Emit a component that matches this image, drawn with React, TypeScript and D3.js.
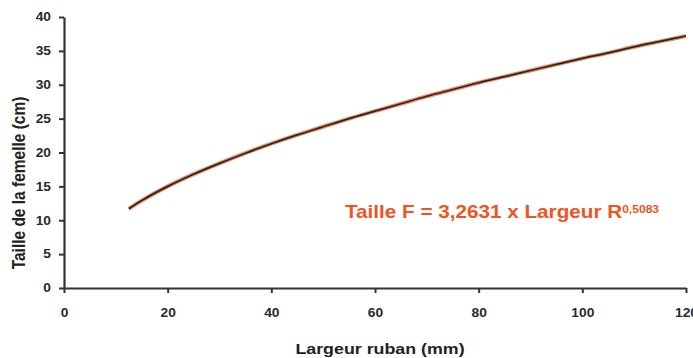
import { useEffect, useRef } from "react";
import * as d3 from "d3";

const WIDTH = 693;
const HEIGHT = 358;
const MARGIN = { top: 17, right: 7, bottom: 70, left: 64 };

// values
const largeur = [12.5, 15, 20, 25, 30, 35, 40, 45, 50, 55, 60, 65, 70, 75, 80, 85, 90, 95, 100, 105, 110, 115, 120];
const taille = [11.7, 12.9, 15.0, 16.8, 18.4, 19.9, 21.3, 22.6, 23.8, 25.0, 26.1, 27.2, 28.3, 29.3, 30.3, 31.2, 32.1, 33.0, 33.9, 34.7, 35.6, 36.4, 37.2];
const xTicks = [0, 20, 40, 60, 80, 100, 120];
const yTicks = [0, 5, 10, 15, 20, 25, 30, 35, 40];

const FONT = "'Liberation Sans', Arial, sans-serif";
const AXIS_COLOR = "#333";
const RED = "#f05423";
// the original picture is a bit wider than tall, text looks stretched
const STRETCH = 1.15;

export default function App() {
  const axesRef = useRef<SVGGElement>(null);
  const boundsWidth = WIDTH - MARGIN.left - MARGIN.right;
  const boundsHeight = HEIGHT - MARGIN.top - MARGIN.bottom;

  const xScale = d3.scaleLinear().domain([0, 120]).range([0, boundsWidth]);
  const yScale = d3.scaleLinear().domain([0, 40]).range([boundsHeight, 0]);

  const data = largeur.map((x, i) => ({ x, y: taille[i] }));
  const line = d3
    .line<{ x: number; y: number }>()
    .x((d) => xScale(d.x))
    .y((d) => yScale(d.y))
    .curve(d3.curveMonotoneX);
  const path = line(data) || "";

  useEffect(() => {
    const g = d3.select(axesRef.current);
    g.selectAll("*").remove();

    const xAxis = g
      .append("g")
      .attr("transform", `translate(0,${boundsHeight})`)
      .call(d3.axisBottom(xScale).tickValues(xTicks).tickSize(5).tickPadding(15).tickSizeOuter(0));
    const yAxis = g
      .append("g")
      .call(d3.axisLeft(yScale).tickValues(yTicks).tickSize(5).tickPadding(8).tickSizeOuter(0));

    [xAxis, yAxis].forEach((a) => {
      a.select(".domain").attr("stroke", AXIS_COLOR).attr("stroke-width", 2.2);
      a.selectAll(".tick line").attr("stroke", AXIS_COLOR).attr("stroke-width", 2);
      a.selectAll<SVGTextElement, number>(".tick text")
        .attr("fill", "#2a2a2a")
        .attr("x", function () {
          return +(this.getAttribute("x") || 0) / STRETCH;
        })
        .attr("transform", `scale(${STRETCH},1)`)
        .style("font-family", FONT)
        .style("font-size", "12px")
        .style("font-weight", "bold");
    });
  }, []);

  return (
    <svg
      width={WIDTH}
      height={HEIGHT}
      style={{ position: "absolute", left: 0, top: 0, background: "#fff" }}
    >
      <g transform={`translate(${MARGIN.left},${MARGIN.top})`}>
        <path d={path} fill="none" stroke={RED} strokeWidth={4} strokeOpacity={0.7} />
        <path d={path} fill="none" stroke="#1e2a26" strokeWidth={1.7} />
        <g ref={axesRef} />
      </g>
      <text
        transform={`translate(345,218) scale(${STRETCH},1)`}
        fill={RED}
        style={{ fontFamily: FONT, fontSize: 18, fontWeight: "bold" }}
      >
        Taille F = 3,2631 x Largeur R
        <tspan dy={-5.5} style={{ fontSize: 10.5 }}>0,5083</tspan>
      </text>
      <text
        transform={`translate(380,354) scale(${STRETCH},1)`}
        textAnchor="middle"
        fill="#222"
        style={{ fontFamily: FONT, fontSize: 15.5, fontWeight: "bold" }}
      >
        Largeur ruban (mm)
      </text>
      <text
        transform={`translate(25,183) scale(${STRETCH},1) rotate(-90)`}
        textAnchor="middle"
        fill="#222"
        style={{ fontFamily: FONT, fontSize: 15.5, fontWeight: "bold" }}
      >
        Taille de la femelle (cm)
      </text>
    </svg>
  );
}
